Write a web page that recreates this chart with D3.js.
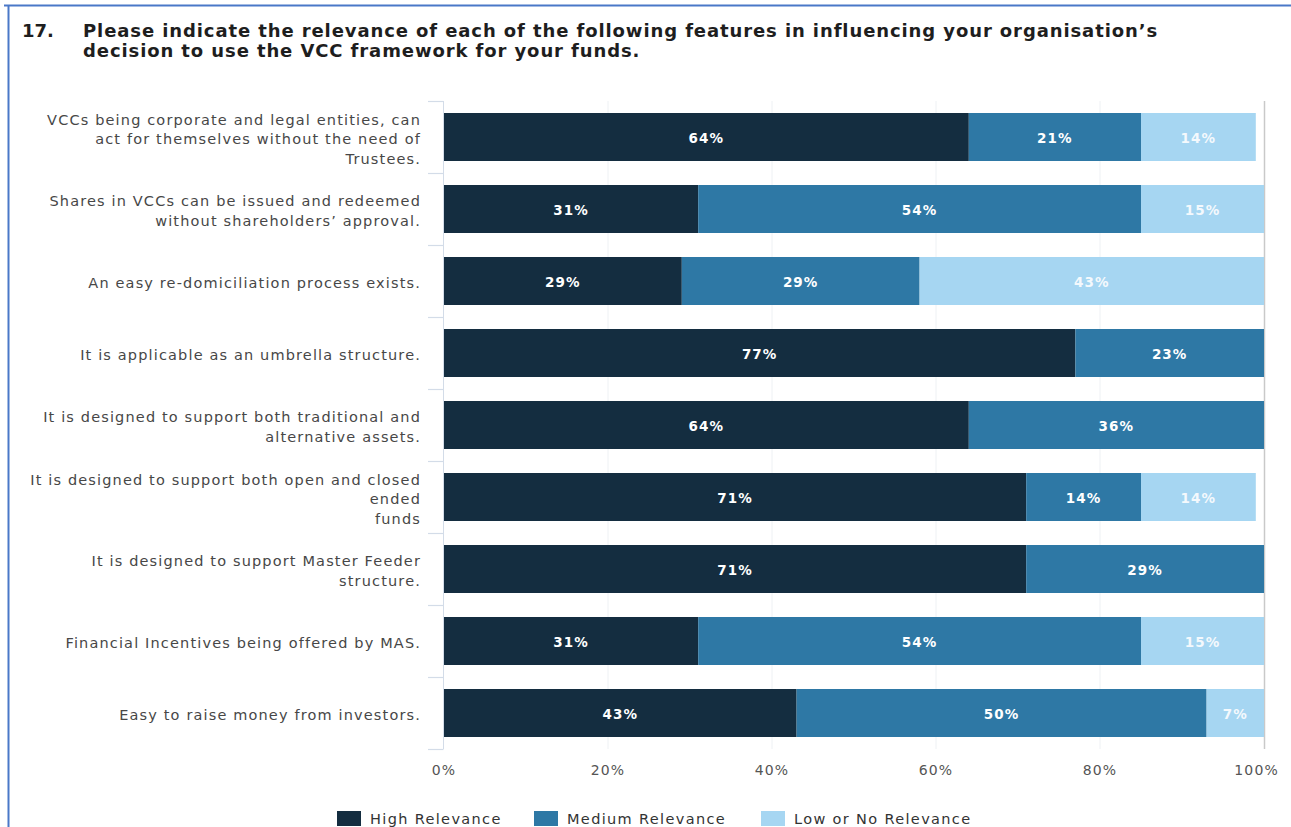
<!DOCTYPE html>
<html>
<head>
<meta charset="utf-8">
<script src="https://cdn.jsdelivr.net/npm/d3@7"></script>
<style>
  html, body { margin: 0; padding: 0; background: #fff; }
  svg { display: block; font-family: "DejaVu Sans", "Open Sans", sans-serif; }
</style>
</head>
<body>
<svg id="chart" width="1291" height="827"></svg>
<script>
// Survey question 17: relevance of VCC features (stacked 100% bars)
const questionNumber = "17.";
const titleLines = [
  "Please indicate the relevance of each of the following features in influencing your organisation\u2019s",
  "decision to use the VCC framework for your funds."
];

const categories = [
  ["VCCs being corporate and legal entities, can", "act for themselves without the need of", "Trustees."],
  ["Shares in VCCs can be issued and redeemed", "without shareholders\u2019 approval."],
  ["An easy re-domiciliation process exists."],
  ["It is applicable as an umbrella structure."],
  ["It is designed to support both traditional and", "alternative assets."],
  ["It is designed to support both open and closed", "ended", "funds"],
  ["It is designed to support Master Feeder", "structure."],
  ["Financial Incentives being offered by MAS."],
  ["Easy to raise money from investors."]
];

const seriesNames = ["High Relevance", "Medium Relevance", "Low or No Relevance"];
const highRelevance   = [64, 31, 29, 77, 64, 71, 71, 31, 43];
const mediumRelevance = [21, 54, 29, 23, 36, 14, 29, 54, 50];
const lowRelevance    = [14, 15, 43, 0, 0, 14, 0, 15, 7];
const seriesColors = ["#142d40", "#2e78a5", "#a6d6f2"];

const xTicks = [0, 20, 40, 60, 80, 100];

const svg = d3.select("#chart");

// Outer frame (left and top rules)
svg.append("line").attr("x1", 4).attr("x2", 1291).attr("y1", 5.5).attr("y2", 5.5)
  .attr("stroke", "#4a78c8").attr("stroke-width", 2);
svg.append("line").attr("x1", 8.5).attr("x2", 8.5).attr("y1", 5).attr("y2", 827)
  .attr("stroke", "#4a78c8").attr("stroke-width", 2);

// Title
svg.append("text").attr("x", 22).attr("y", 37)
  .attr("font-size", 18).attr("font-weight", 700).attr("fill", "#1e1e1e")
  .text(questionNumber);
svg.append("text").attr("x", 83).attr("y", 37)
  .attr("font-size", 18).attr("font-weight", 700).attr("fill", "#1e1e1e")
  .attr("letter-spacing", 0.9)
  .selectAll("tspan").data(titleLines).join("tspan")
  .attr("x", 83).attr("dy", (d, i) => i === 0 ? 0 : 19.5)
  .text(d => d);

// Scales
const x = d3.scaleLinear().domain([0, 100]).range([444, 1264]);
const keys = d3.range(categories.length);
const y = d3.scaleBand().domain(keys).range([101, 749]).paddingInner(1 / 3).paddingOuter(1 / 6);

// Gridlines
svg.append("g").selectAll("line").data(xTicks.slice(1, -1)).join("line")
  .attr("x1", d => x(d)).attr("x2", d => x(d))
  .attr("y1", 101).attr("y2", 749)
  .attr("stroke", "#eef1f4").attr("stroke-width", 1);

// Right boundary line
svg.append("line").attr("x1", x(100) + 0.5).attr("x2", x(100) + 0.5)
  .attr("y1", 101).attr("y2", 749)
  .attr("stroke", "#c9c9c9").attr("stroke-width", 1.5);

// Category axis with ticks on band boundaries
const step = y.step();
const boundaries = d3.range(categories.length + 1).map(i => 101 + i * step);
svg.append("line").attr("x1", 443.5).attr("x2", 443.5).attr("y1", 101).attr("y2", 749)
  .attr("stroke", "#d3dce8").attr("stroke-width", 1);
svg.append("g").selectAll("line").data(boundaries).join("line")
  .attr("x1", 428).attr("x2", 443.5)
  .attr("y1", d => Math.round(d) + 0.5).attr("y2", d => Math.round(d) + 0.5)
  .attr("stroke", "#d3dce8").attr("stroke-width", 1.2);

// Stacked data
const rows = keys.map(i => ({ high: highRelevance[i], medium: mediumRelevance[i], low: lowRelevance[i] }));
const stack = d3.stack().keys(["high", "medium", "low"]);
const layers = stack(rows);

const gBars = svg.append("g");
layers.forEach((layer, li) => {
  const g = gBars.append("g");
  const segs = layer.map((d, i) => ({ i, v0: d[0], v1: d[1], val: d[1] - d[0] })).filter(d => d.val > 0);
  g.selectAll("rect").data(segs).join("rect")
    .attr("x", d => x(d.v0))
    .attr("width", d => x(Math.min(d.v1, 100)) - x(d.v0))
    .attr("y", d => y(d.i))
    .attr("height", y.bandwidth())
    .attr("fill", seriesColors[li]);
  g.selectAll("text").data(segs).join("text")
    .attr("x", d => (x(d.v0) + x(Math.min(d.v1, 100))) / 2)
    .attr("y", d => y(d.i) + y.bandwidth() / 2 + 6)
    .attr("text-anchor", "middle")
    .attr("font-size", 13.5).attr("font-weight", 700).attr("letter-spacing", 1.1)
    .attr("fill", li === 2 ? "#f4f9fd" : "#ffffff")
    .text(d => d.val + "%");
});

// Category labels
const gLabels = svg.append("g");
keys.forEach(i => {
  const lines = categories[i];
  const lh = 19.5;
  const cy = y(i) + y.bandwidth() / 2;
  const startY = cy - (lines.length - 1) * lh / 2 + 7;
  gLabels.append("text")
    .attr("text-anchor", "end").attr("font-size", 14.5).attr("fill", "#474747")
    .attr("letter-spacing", 1.15)
    .selectAll("tspan").data(lines).join("tspan")
    .attr("x", 421).attr("y", (d, j) => startY + j * lh)
    .text(d => d);
});

// X axis labels
svg.append("g").selectAll("text").data(xTicks).join("text")
  .attr("x", d => d === 100 ? x(d) + 15 : x(d))
  .attr("y", 775)
  .attr("text-anchor", d => d === 100 ? "end" : "middle")
  .attr("font-size", 14).attr("fill", "#555").attr("letter-spacing", 1.2)
  .text(d => d + "%");

// Legend
const legendX = [337, 534, 761];
const gLeg = svg.append("g");
seriesNames.forEach((name, i) => {
  gLeg.append("rect").attr("x", legendX[i]).attr("y", 811).attr("width", 24).attr("height", 15)
    .attr("fill", seriesColors[i]);
  gLeg.append("text").attr("x", legendX[i] + 33).attr("y", 824)
    .attr("font-size", 14.5).attr("fill", "#333").attr("letter-spacing", 1.35)
    .text(name);
});
</script>
</body>
</html>
